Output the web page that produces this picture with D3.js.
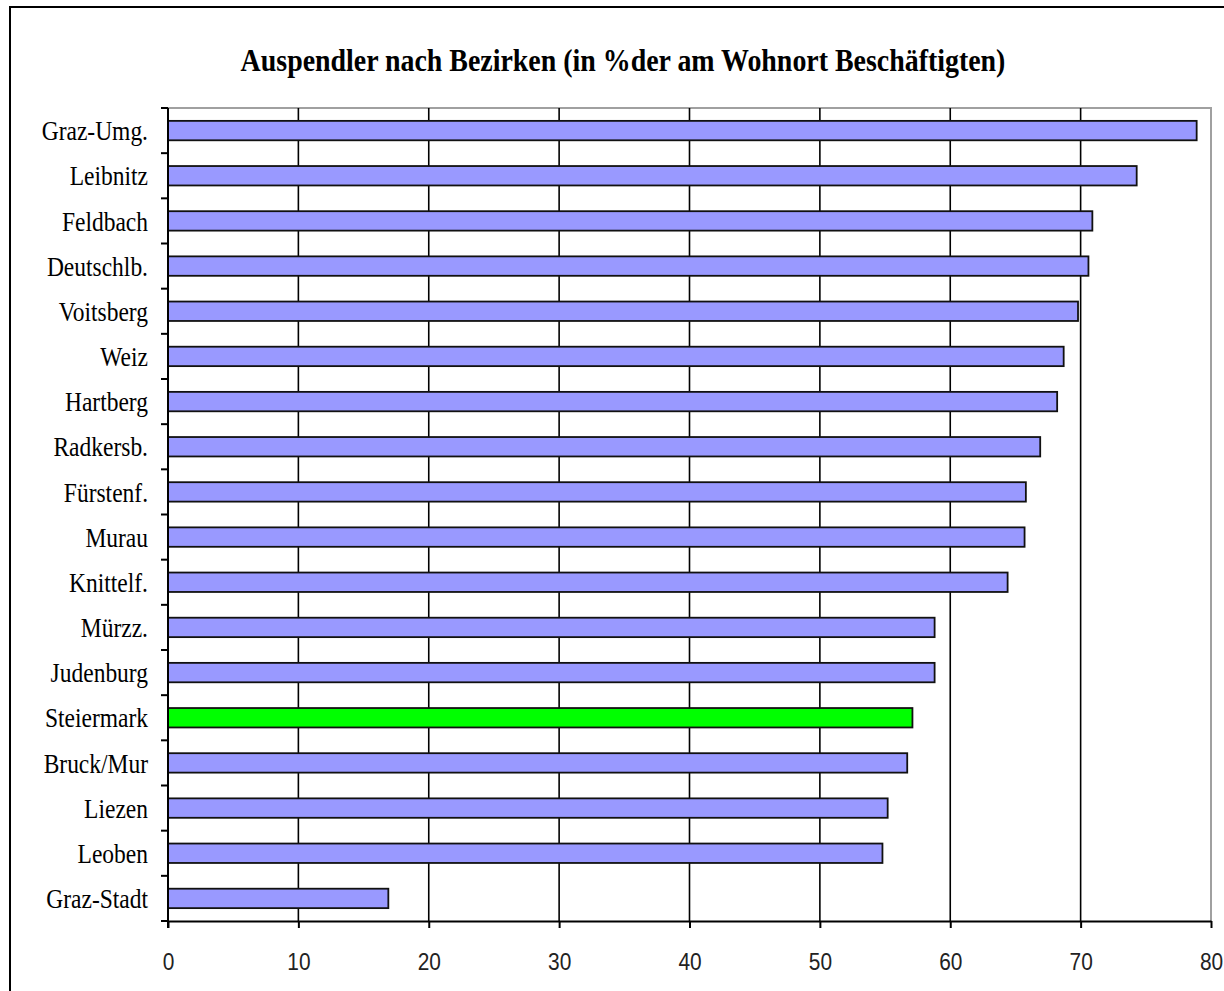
<!DOCTYPE html>
<html>
<head>
<meta charset="utf-8">
<script src="https://cdn.jsdelivr.net/npm/d3@7"></script>
<style>
  html, body { margin: 0; padding: 0; background: #fff; }
  svg { display: block; }
</style>
</head>
<body>
<div id="chart"></div>
<script>
const title = "Auspendler nach Bezirken (in %der am Wohnort Beschäftigten)";
const categories = ["Graz-Umg.", "Leibnitz", "Feldbach", "Deutschlb.", "Voitsberg", "Weiz", "Hartberg", "Radkersb.", "Fürstenf.", "Murau", "Knittelf.", "Mürzz.", "Judenburg", "Steiermark", "Bruck/Mur", "Liezen", "Leoben", "Graz-Stadt"];
const values = [78.9, 74.3, 70.9, 70.6, 69.8, 68.7, 68.2, 66.9, 65.8, 65.7, 64.4, 58.8, 58.8, 57.1, 56.7, 55.2, 54.8, 16.9];
const highlighted = ["Steiermark"];
const xTicks = [0, 10, 20, 30, 40, 50, 60, 70, 80];

const W = 1224, H = 991;
const plot = { left: 168, top: 108, right: 1211, bottom: 921 };
const condense = 0.87;

const svg = d3.select("#chart").append("svg").attr("width", W).attr("height", H);
svg.append("rect").attr("width", W).attr("height", H).attr("fill", "#fff");

// outer frame (only top and left visible)
svg.append("path").attr("d", `M10,${H} L10,7 L${W},7`).attr("fill", "none").attr("stroke", "#000").attr("stroke-width", 2);

const x = d3.scaleLinear().domain([0, 80]).range([plot.left, plot.right]);
const y = d3.scaleBand().domain(categories).range([plot.top, plot.bottom]).paddingInner(0.57).paddingOuter(0.285);
const boundary = d3.scaleLinear().domain([0, categories.length]).range([plot.top, plot.bottom]);

// plot border (gray top and right)
svg.append("path")
  .attr("d", `M${plot.left},${plot.top} L${plot.right},${plot.top} L${plot.right},${plot.bottom}`)
  .attr("fill", "none").attr("stroke", "#a0a0a0").attr("stroke-width", 2);

// gridlines
svg.append("g").selectAll("line").data(xTicks.filter(t => t > 0 && t < 80)).join("line")
  .attr("x1", d => x(d)).attr("x2", d => x(d))
  .attr("y1", plot.top).attr("y2", plot.bottom)
  .attr("stroke", "#000").attr("stroke-width", 1.6);

// bars
svg.append("g").selectAll("rect").data(categories).join("rect")
  .attr("x", x(0))
  .attr("y", d => y(d))
  .attr("width", (d, i) => x(values[i]) - x(0))
  .attr("height", y.bandwidth())
  .attr("fill", d => highlighted.includes(d) ? "#00ff00" : "#9999ff")
  .attr("stroke", "#111").attr("stroke-width", 1.8);

// left axis line + ticks
svg.append("line").attr("x1", plot.left).attr("x2", plot.left).attr("y1", plot.top).attr("y2", plot.bottom + 7)
  .attr("stroke", "#000").attr("stroke-width", 2);
svg.append("g").selectAll("line").data(d3.range(categories.length + 1)).join("line")
  .attr("x1", plot.left - 7).attr("x2", plot.left)
  .attr("y1", d => boundary(d)).attr("y2", d => boundary(d))
  .attr("stroke", "#000").attr("stroke-width", 2);

// bottom axis
const xAxis = d3.axisBottom(x).tickValues(xTicks).tickSize(7).tickSizeOuter(0).tickPadding(0).tickFormat(d => d);
const gx = svg.append("g").attr("transform", `translate(0,${plot.bottom})`).call(xAxis);
gx.select(".domain").attr("stroke", "#000").attr("stroke-width", 2);
gx.selectAll(".tick line").attr("stroke", "#000").attr("stroke-width", 2);
gx.selectAll(".tick text").remove();
gx.selectAll(".tick").append("text")
  .attr("transform", `translate(0,41) scale(${condense},1)`)
  .attr("text-anchor", "middle")
  .attr("dominant-baseline", "central")
  .attr("fill", "#222")
  .attr("font-family", "'Liberation Sans', Arial, sans-serif")
  .attr("font-size", 24)
  .text(d => d);

// category labels
svg.append("g").selectAll("text").data(categories).join("text")
  .attr("transform", d => `translate(148,${y(d) + y.bandwidth() / 2}) scale(${condense},1)`)
  .attr("text-anchor", "end")
  .attr("dominant-baseline", "central")
  .attr("font-family", "'Liberation Serif', 'Times New Roman', serif")
  .attr("font-size", 27)
  .attr("fill", "#000")
  .text(d => d);

// title
svg.append("text")
  .attr("transform", `translate(623,60) scale(0.9,1)`)
  .attr("text-anchor", "middle")
  .attr("dominant-baseline", "central")
  .attr("font-family", "'Liberation Serif', 'Times New Roman', serif")
  .attr("font-weight", "bold")
  .attr("font-size", 31)
  .attr("fill", "#000")
  .text(title);
</script>
</body>
</html>
